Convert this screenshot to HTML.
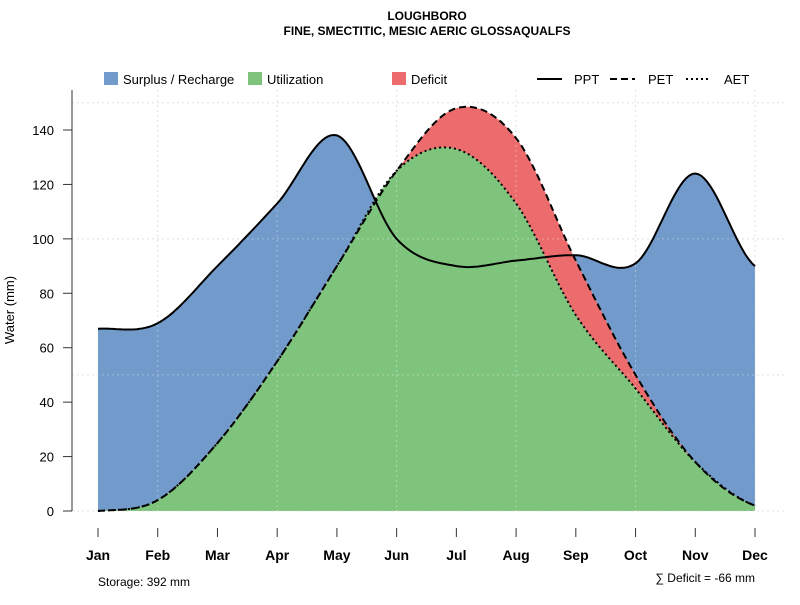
<!DOCTYPE html>
<html><head><meta charset="utf-8"><style>
body{margin:0;background:#fff;font-family:"Liberation Sans",sans-serif}
svg text{font-family:"Liberation Sans",sans-serif}
</style></head><body>
<svg id="c" width="800" height="600">
<text x="427" y="20" text-anchor="middle" font-size="12" font-weight="bold">LOUGHBORO</text>
<text x="427" y="35" text-anchor="middle" font-size="12" font-weight="bold">FINE, SMECTITIC, MESIC AERIC GLOSSAQUALFS</text>
<g id="grid"></g>
<g id="areas"></g>
<g id="grid2"></g>
<g id="lines"></g>
<g id="axes"></g>
<g font-size="13">
<rect x="104" y="72" width="14" height="13" fill="#729ACB"/>
<text x="123" y="84">Surplus / Recharge</text>
<rect x="248" y="72" width="14" height="13" fill="#7FC47C"/>
<text x="267" y="84">Utilization</text>
<rect x="392" y="72" width="14" height="13" fill="#EC6C6E"/>
<text x="411" y="84">Deficit</text>
<line x1="537" y1="79" x2="562" y2="79" stroke="#000" stroke-width="2"/>
<text x="574" y="84">PPT</text>
<line x1="610" y1="79" x2="635" y2="79" stroke="#000" stroke-width="2" stroke-dasharray="7,4"/>
<text x="648" y="84">PET</text>
<line x1="686" y1="79" x2="711" y2="79" stroke="#000" stroke-width="2" stroke-dasharray="2,3"/>
<text x="724" y="84">AET</text>
</g>
<text x="14" y="310" transform="rotate(-90 14 310)" text-anchor="middle" font-size="13">Water (mm)</text>
<text x="98" y="586" font-size="12">Storage: 392 mm</text>
<text x="755" y="582" text-anchor="end" font-size="12">∑ Deficit = -66 mm</text>
</svg>
<script>
const months=["Jan","Feb","Mar","Apr","May","Jun","Jul","Aug","Sep","Oct","Nov","Dec"];
const ppt=[67,69,90,113,138,100,90,92,94,91,124,90];
const pet=[0,4,25,55,90,125,148,137,92,50,18,2];
const aet=[0,4,25,55,90,125,133,113,72,45,18,2];
const yTicks=[0,20,40,60,80,100,120,140];
const NS="http://www.w3.org/2000/svg";
const X=i=>98+i*(755-98)/11, Y=v=>511-v*381/140;
function mk(t,a,p){const e=document.createElementNS(NS,t);for(const k in a)e.setAttribute(k,a[k]);p.appendChild(e);return e;}
function pts(d){const out=[];const n=d.length;for(let i=0;i<n-1;i++){const p0=d[Math.max(i-1,0)],p1=d[i],p2=d[i+1],p3=d[Math.min(i+2,n-1)];for(let s=0;s<20;s++){const t=s/20,t2=t*t,t3=t2*t;const v=0.5*((2*p1)+(-p0+p2)*t+(2*p0-5*p1+4*p2-p3)*t2+(-p0+3*p1-3*p2+p3)*t3);out.push([X(i+t),Y(v)]);}}out.push([X(n-1),Y(d[n-1])]);return out;}
const toPath=p=>p.map((q,i)=>(i?"L":"M")+q[0].toFixed(1)+","+q[1].toFixed(1)).join("");
const grid=document.getElementById("grid"),grid2=document.getElementById("grid2"),areas=document.getElementById("areas"),lines=document.getElementById("lines"),axes=document.getElementById("axes");
[150,100,50,0].forEach(v=>{[grid,grid2].forEach((g,k)=>{const l=mk("line",{x1:72,x2:785,y1:Y(v),y2:Y(v),stroke:k?"rgba(255,255,255,0.35)":"#d4d4d4","stroke-dasharray":"2,3"},g);});});
for(let i=1;i<12;i+=2){[grid,grid2].forEach((g,k)=>{const l=mk("line",{x1:X(i),x2:X(i),y1:90,y2:511,stroke:k?"rgba(255,255,255,0.35)":"#d4d4d4","stroke-dasharray":"2,3"},g);});}
const base=" L"+X(11)+","+Y(0)+" L"+X(0)+","+Y(0)+" Z";
[[ppt,"#729ACB","area-surplus"],[pet,"#EC6C6E","area-deficit"],[aet,"#7FC47C","area-utilization"]].forEach(([d,c,n])=>{const e=mk("path",{d:toPath(pts(d))+base,fill:c},areas);});
[[ppt,"none","line-ppt"],[pet,"7,4","line-pet"],[aet,"2,3","line-aet"]].forEach(([d,da,n])=>{const e=mk("path",{d:toPath(pts(d)),fill:"none",stroke:"#000","stroke-width":2,"stroke-dasharray":da},lines);});
const ya=mk("line",{x1:72,x2:72,y1:Y(0),y2:90,stroke:"#777","stroke-width":1.5},axes);
yTicks.forEach(v=>{mk("line",{x1:63,x2:72,y1:Y(v),y2:Y(v),stroke:"#333"},axes);const t=mk("text",{x:54,y:Y(v)+5,"text-anchor":"end","font-size":13},axes);t.textContent=v;});
months.forEach((m,i)=>{mk("line",{x1:X(i),x2:X(i),y1:528,y2:537,stroke:"#333"},axes);const t=mk("text",{x:X(i),y:560,"text-anchor":"middle","font-size":14,"font-weight":"bold"},axes);t.textContent=m;});
</script>
</body></html>
